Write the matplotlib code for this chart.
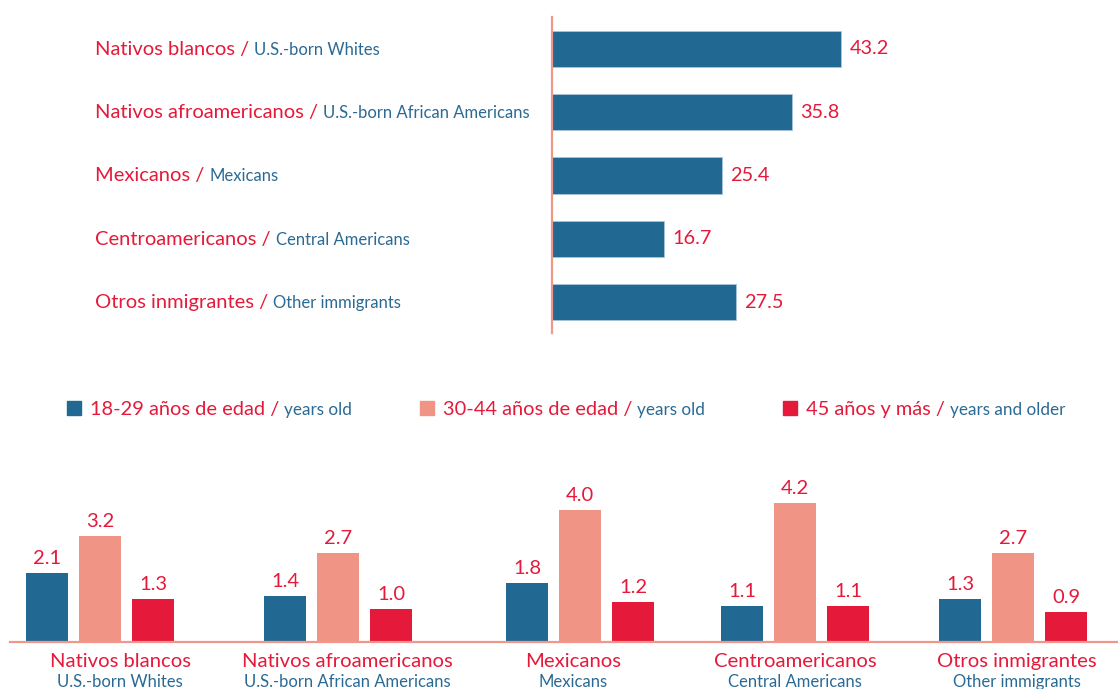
import matplotlib
matplotlib.use("Agg")
import matplotlib.pyplot as plt
import matplotlib.transforms as mtransforms
from matplotlib.patches import Rectangle

plt.rcParams['font.family'] = ['Lato', 'DejaVu Sans']

# ---------------- data ----------------
groups_es = ["Nativos blancos", "Nativos afroamericanos", "Mexicanos",
             "Centroamericanos", "Otros inmigrantes"]
groups_en = ["U.S.-born Whites", "U.S.-born African Americans", "Mexicans",
             "Central Americans", "Other immigrants"]
top_values = [43.2, 35.8, 25.4, 16.7, 27.5]

age_es = ["18-29 años de edad", "30-44 años de edad", "45 años y más"]
age_en = ["years old", "years old", "years and older"]
young = [2.1, 1.4, 1.8, 1.1, 1.3]
middle = [3.2, 2.7, 4.0, 4.2, 2.7]
older = [1.3, 1.0, 1.2, 1.1, 0.9]

# ---------------- style ----------------
BLUE = "#216892"
PINK = "#f09585"
RED = "#e5193a"
TXT_RED = "#e5193a"
TXT_BLUE = "#2a6a94"
AXIS = "#f0968a"

W, H = 1118, 689
fig = plt.figure(figsize=(W / 100, H / 100), dpi=100)
renderer = fig.canvas.get_renderer()


def fx(px):
    return px / W


def fy(py):
    return 1 - py / H


def two_tone(x, y, s1, s2, size1, size2, transform, gap=5):
    """Draw red text followed by blue text on the same baseline."""
    t1 = fig.text(x, y, s1, color=TXT_RED, fontsize=size1, ha='left',
                  va='baseline', transform=transform)
    fig.canvas.draw()
    bb = t1.get_window_extent(renderer)
    disp = transform.transform((x, y))
    t2 = fig.text(bb.x1 + gap, disp[1], s2, color=TXT_BLUE, fontsize=size2,
                  ha='left', va='baseline', transform=None)
    return t1, t2


# ---------------- top chart ----------------
ax1 = fig.add_axes([fx(552), fy(333), fx(335), fy(17) - fy(333)])
ypos = list(range(len(groups_es)))
ax1.barh(ypos, top_values, height=0.57, color=BLUE, edgecolor='#a9c6da',
         linewidth=0.6)
ax1.set_xlim(0, 50)
ax1.set_ylim(4.49, -0.505)
for s in ['top', 'right', 'bottom']:
    ax1.spines[s].set_visible(False)
ax1.spines['left'].set_color(AXIS)
ax1.spines['left'].set_linewidth(1.6)
ax1.set_xticks([])
ax1.set_yticks([])
ax1.patch.set_alpha(0)

for i, v in enumerate(top_values):
    ax1.annotate(f"{v:.1f}", xy=(v, i), xytext=(8, 0), textcoords='offset pixels',
                 ha='left', va='center', color=TXT_RED, fontsize=14.3)

blend = mtransforms.blended_transform_factory(fig.transFigure, ax1.transData)
for i, (es, en) in enumerate(zip(groups_es, groups_en)):
    two_tone(fx(95), i + 0.095, es + " /", en, 14.5, 12, blend, gap=5)

# ---------------- legend ----------------
leg_sq_x = [67, 420, 783]
leg_colors = [BLUE, PINK, RED]
for sx, c, es, en in zip(leg_sq_x, leg_colors, age_es, age_en):
    fig.patches.append(Rectangle((fx(sx), fy(415)), fx(14), fy(401) - fy(415),
                                 transform=fig.transFigure, color=c,
                                 figure=fig))
    two_tone(fx(sx + 23), fy(415), es + " /", en, 14.4, 12.3, fig.transFigure,
             gap=5)

# ---------------- bottom chart ----------------
ax2 = fig.add_axes([0, fy(642), 1, fy(480) - fy(642)])
ax2.set_xlim(0, W)
ax2.set_ylim(0, 162 / 33.0)
ax2.axis('off')
group_x = [100, 338, 580, 795, 1013]
label_x = [120, 347, 573, 795, 1017]
bw = 42
step = 53
for series, off, c in zip([young, middle, older], [-step, 0, step], leg_colors):
    xs = [g + off for g in group_x]
    ax2.bar(xs, series, width=bw, color=c)
    for xv, v in zip(xs, series):
        ax2.annotate(f"{v:.1f}", xy=(xv, v), xytext=(0, 9),
                     textcoords='offset pixels', ha='center', va='baseline',
                     color=TXT_RED, fontsize=14.5)
ax2.axhline(0, xmin=10 / W, xmax=1, color=AXIS, linewidth=1.6, clip_on=False)

for lx, es, en in zip(label_x, groups_es, groups_en):
    fig.text(fx(lx), fy(667), es, color=TXT_RED, fontsize=14.6, ha='center',
             va='baseline')
    fig.text(fx(lx), fy(687), en, color=TXT_BLUE, fontsize=12, ha='center',
             va='baseline')

fig.savefig("out.png", dpi=100)
